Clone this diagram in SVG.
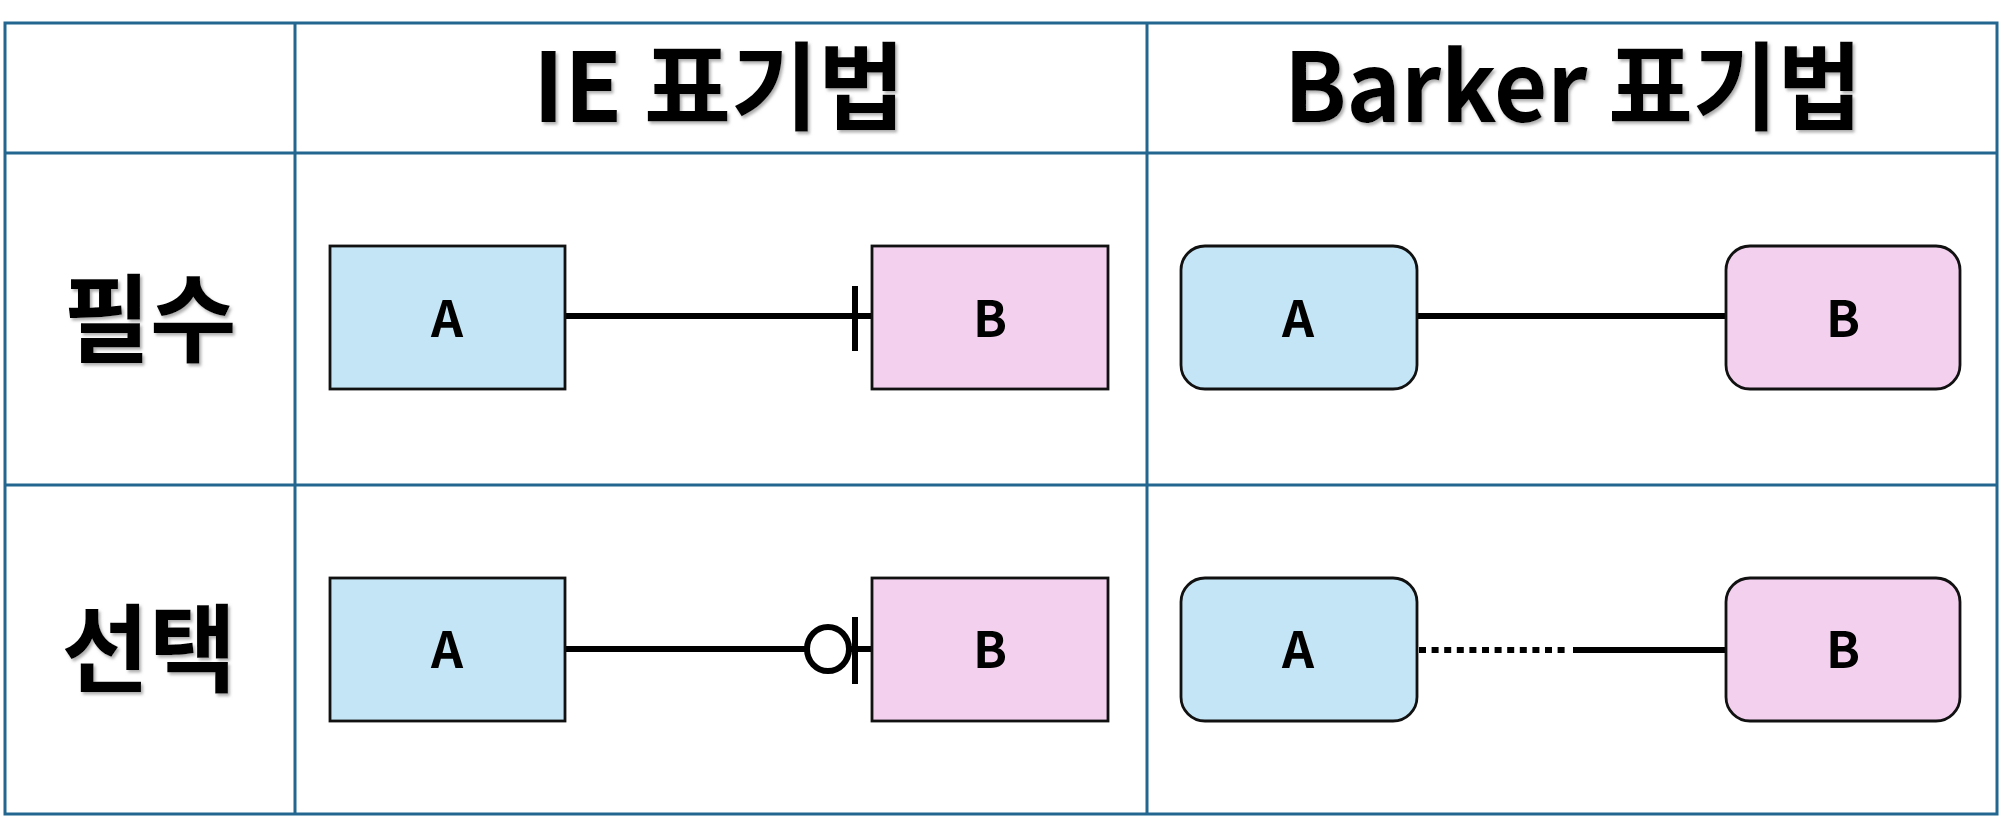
<svg xmlns="http://www.w3.org/2000/svg" width="2000" height="817" viewBox="0 0 2000 817">
<style>
.grid{stroke:#23668f;stroke-width:3;fill:none}
.big{font-family:"Noto Sans CJK KR","Noto Sans",sans-serif;font-weight:700;font-size:96px;fill:#000;text-anchor:middle;filter:url(#sh)}
.lbl{font-family:"Noto Sans CJK KR","Noto Sans",sans-serif;font-weight:700;font-size:50px;fill:#000;text-anchor:middle}
.ea{fill:#c4e5f5;stroke:#111;stroke-width:2.8}
.eb{fill:#f2d0ee;stroke:#111;stroke-width:2.8}
.ln{stroke:#000;stroke-width:6;fill:none}
</style>
<defs>
<filter id="sh" x="-10%" y="-10%" width="120%" height="130%">
<feDropShadow dx="2" dy="2.5" stdDeviation="1.5" flood-color="#777" flood-opacity="0.6"/>
</filter>
</defs>
<rect width="2000" height="817" fill="#fff"/>
<g id="table">
<rect class="grid" x="5" y="23" width="1992" height="791"/>
<line class="grid" x1="295" y1="23" x2="295" y2="814"/>
<line class="grid" x1="1147" y1="23" x2="1147" y2="814"/>
<line class="grid" x1="5" y1="153" x2="1997" y2="153"/>
<line class="grid" x1="5" y1="485" x2="1997" y2="485"/>
</g>
<g id="headers">
<text class="big" x="719" y="122" textLength="372" lengthAdjust="spacingAndGlyphs">IE 표기법</text>
<text class="big" x="1573" y="122" textLength="578" lengthAdjust="spacingAndGlyphs">Barker 표기법</text>
<text class="big" x="150" y="354" textLength="173" lengthAdjust="spacingAndGlyphs">필수</text>
<text class="big" x="149" y="684" textLength="175" lengthAdjust="spacingAndGlyphs">선택</text>
</g>
<g id="connectors">
<line class="ln" x1="565" y1="316" x2="872" y2="316"/>
<line class="ln" x1="855" y1="286" x2="855" y2="351"/>
<line class="ln" x1="565" y1="649" x2="806" y2="649"/>
<ellipse class="ln" cx="828" cy="649" rx="21" ry="22"/>
<line class="ln" x1="849" y1="649" x2="872" y2="649"/>
<line class="ln" x1="855" y1="617" x2="855" y2="684"/>
<line class="ln" x1="1417" y1="316" x2="1726" y2="316"/>
<line class="ln" x1="1419" y1="650" x2="1570" y2="650" stroke-dasharray="7 5.6"/>
<line class="ln" x1="1573" y1="650" x2="1726" y2="650"/>
</g>
<g id="ie-a1"><rect class="ea" x="330" y="246" width="235" height="143"/><text class="lbl" x="447" y="337">A</text></g>
<g id="ie-b1"><rect class="eb" x="872" y="246" width="236" height="143"/><text class="lbl" x="990" y="337">B</text></g>
<g id="ie-a2"><rect class="ea" x="330" y="578" width="235" height="143"/><text class="lbl" x="447" y="668">A</text></g>
<g id="ie-b2"><rect class="eb" x="872" y="578" width="236" height="143"/><text class="lbl" x="990" y="668">B</text></g>
<g id="bk-a1"><rect class="ea" x="1181" y="246" width="236" height="143" rx="24"/><text class="lbl" x="1298" y="337">A</text></g>
<g id="bk-b1"><rect class="eb" x="1726" y="246" width="234" height="143" rx="24"/><text class="lbl" x="1843" y="337">B</text></g>
<g id="bk-a2"><rect class="ea" x="1181" y="578" width="236" height="143" rx="24"/><text class="lbl" x="1298" y="668">A</text></g>
<g id="bk-b2"><rect class="eb" x="1726" y="578" width="234" height="143" rx="24"/><text class="lbl" x="1843" y="668">B</text></g>
</svg>
